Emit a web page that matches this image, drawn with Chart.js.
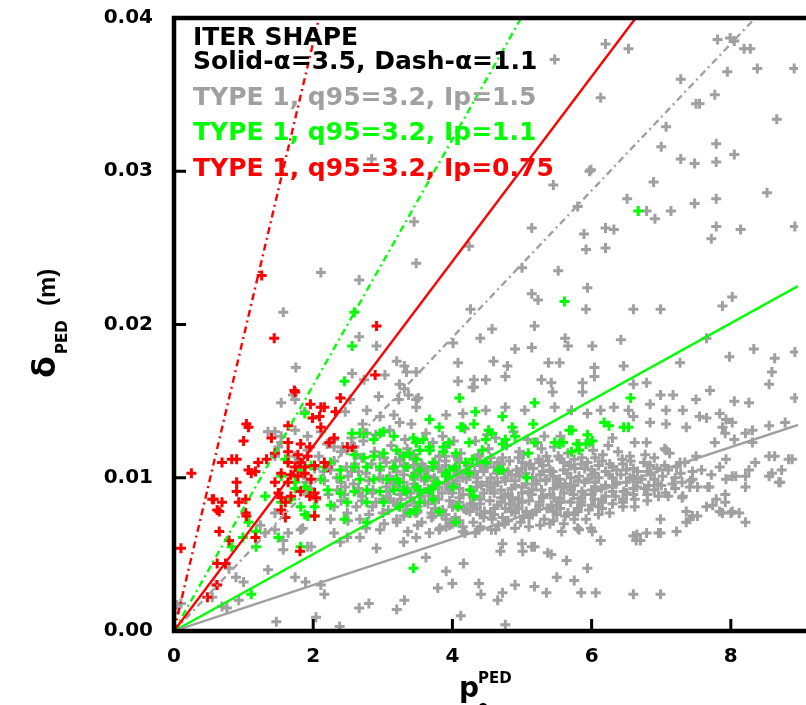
<!DOCTYPE html>
<html>
<head>
<meta charset="utf-8">
<script src="https://cdn.jsdelivr.net/npm/chart.js@4.4.1/dist/chart.umd.min.js"></script>
<style>
    html, body { margin: 0; padding: 0; background: #fff; overflow: hidden; }
    canvas { display: block; }
</style>
</head>
<body>
<canvas id="chart" width="806" height="705"></canvas>
<script>
// axis ranges and ticks
const xMax = 8.965;
const yMax = 0.04;
const xTicks = [0, 2, 4, 6, 8];
const yTicks = [0, 0.01, 0.02, 0.03, 0.04];

// slopes of the lines through the origin (delta = slope * p)
const solidSlopes = { gray: 0.0015, green: 0.00251, red: 0.00603 };
const dashSlopes = { gray: 0.00479, green: 0.00802, red: 0.0192 };

const legendLines = [
    { text: 'ITER SHAPE', color: '#000000' },
    { text: 'Solid-\u03b1=3.5, Dash-\u03b1=1.1', color: '#000000' },
    { text: 'TYPE 1, q95=3.2, Ip=1.5', color: '#a0a0a0' },
    { text: 'TYPE 1, q95=3.2, Ip=1.1', color: '#00ff00' },
    { text: 'TYPE 1, q95=3.2, Ip=0.75', color: '#ff0000' },
];

// points: [p, delta in mm]
const redPts = [
    [2.91,19.9],[1.44,19.1],[2.89,16.7],[1.73,15.7],[2.39,15.2],[1.96,14.8],[2.11,14.6],[2.32,14.3],[1.99,13.9],
    [1.04,13.5],[1.07,13.3],[1.64,13.4],[2.11,13.3],[1.40,12.6],[1.00,12.4],[1.64,12.3],[1.82,12.2],[1.95,12.0],
    [2.23,12.3],[2.30,12.6],[2.49,12.0],[2.56,12.0],[1.45,11.6],[1.64,11.7],[1.78,11.5],[1.92,11.4],[0.69,11.0],
    [0.83,11.2],[0.90,11.2],[1.21,11.0],[1.33,11.2],[1.07,10.5],[1.11,10.3],[1.17,10.4],[1.64,11.0],[1.74,10.7],
    [1.82,11.0],[1.88,10.7],[2.02,10.8],[2.16,11.0],[2.21,10.7],[1.54,10.3],[1.68,10.2],[1.78,10.1],[1.88,10.3],
    [1.97,9.9],[1.64,9.7],[0.25,10.3],[1.45,9.7],[0.90,9.7],[0.90,9.1],[0.57,8.6],[0.69,8.4],[0.62,7.9],
    [0.93,8.4],[1.03,8.6],[1.50,9.0],[1.54,8.7],[1.60,8.4],[1.68,8.8],[1.82,9.1],[2.02,9.0],[2.04,8.7],
    [1.03,7.7],[1.04,7.5],[1.60,7.4],[2.02,7.5],[0.65,6.5],[0.79,5.9],[1.17,6.1],[0.10,5.4],[0.62,4.4],
    [0.74,4.4],[0.62,3.0],[0.48,2.2],[1.81,5.2],[1.95,8.8],[1.54,7.9],[0.55,8.6],[0.65,7.8],[2.09,14.0],
    [2.16,14.6],[1.26,23.2],[1.74,15.6],
];

const greenPts = [
    [6.67,27.4],[5.61,21.5],[2.59,20.8],[2.56,18.6],[2.45,16.3],[4.10,15.2],[4.33,14.3],[4.31,13.5],[4.12,13.3],
    [3.67,13.8],[3.81,13.3],[2.96,12.9],[3.16,12.7],[3.44,12.6],[3.58,12.5],[2.67,12.9],[4.52,13.1],[4.48,12.5],
    [1.88,14.2],[2.56,12.9],[2.73,12.9],[3.01,13.0],[2.87,12.5],
    [2.59,11.5],[2.73,11.3],[2.87,11.4],[3.01,11.6],[3.20,11.8],[3.38,11.6],[3.53,11.8],[3.67,12.0],
    [2.25,11.0],[2.16,10.7],[2.39,10.5],[2.59,10.7],[2.77,10.7],[2.96,10.7],[3.16,10.7],[3.34,10.7],[3.53,10.5],[3.72,10.7],
    [1.64,11.0],[1.82,10.5],[1.97,10.8],
    [2.11,9.9],[2.39,10.0],[2.67,9.9],[2.87,9.9],[3.06,9.9],[3.24,9.7],[3.44,10.1],[3.62,10.0],
    [1.74,9.3],[1.92,9.2],[2.21,9.2],[2.39,9.0],[2.59,9.1],[2.77,9.2],[2.96,9.1],[3.16,9.2],[3.34,9.1],[3.53,9.2],[3.72,9.3],
    [1.31,8.8],[1.54,8.4],[1.82,8.1],[2.02,8.1],[2.25,8.2],[2.49,8.4],[2.77,8.4],[3.01,8.4],[3.24,8.1],[3.53,8.4],[3.72,8.6],
    [1.88,7.6],[2.02,7.5],[2.45,7.3],[2.77,7.1],[3.48,7.9],
    [1.07,7.1],[1.18,6.5],[0.99,6.1],[1.50,6.1],[1.82,5.5],[1.18,5.5],[1.11,2.4],[3.44,4.1],[0.83,5.5],
    [5.18,14.9],[6.56,15.2],[4.72,14.0],[4.86,13.3],[5.16,13.5],[5.68,13.1],[6.18,13.6],[6.46,13.3],
    [5.94,12.8],[5.79,12.2],[5.47,12.3],[5.59,12.3],
    [4.15,13.3],[4.57,12.9],[4.76,12.5],[4.90,12.7],
    [3.95,12.3],[4.24,12.3],[4.43,11.8],[4.72,12.2],[5.09,11.6],[5.18,12.3],[5.71,11.7],
    [3.87,11.7],[4.05,11.6],[4.29,11.2],[4.48,11.0],[4.66,10.5],[5.07,10.0],[4.24,10.3],[4.05,10.7],[3.91,10.1],
    [4.05,7.1],[3.81,7.8],[3.39,7.7],[4.08,8.1],[4.31,8.8],[4.26,9.2],[4.72,10.5],
    [3.20,9.9],[3.30,9.2],[3.48,9.4],[3.67,9.2],[3.77,9.7],[3.91,10.3],[4.01,9.4],
    [3.30,11.4],[3.48,11.2],[3.72,11.0],[3.96,10.5],[4.19,11.0],[3.48,12.3],[3.67,11.8],[3.87,12.0],
    [5.82,11.8],[5.92,12.2],[6.01,12.4],[6.25,13.4],[6.53,13.3],[5.72,13.1],[5.54,12.2],
    [1.60,11.2],[1.54,10.1],[1.74,9.7],[1.88,9.4],[1.68,8.6],[1.92,7.5],
];

const grayUpper = [
    [6.20,38.3],[6.53,38.0],[7.81,38.6],[7.99,38.7],[8.05,38.5],[8.19,38.0],[8.28,38.0],[8.38,36.7],[7.95,36.5],
    [8.91,36.7],[7.28,36.0],[6.13,34.8],[5.47,37.3],[7.55,34.4],[7.50,34.4],[7.77,35.0],[8.66,33.4],[7.07,32.9],
    [7.00,31.6],[7.79,31.8],[8.05,31.1],[7.28,30.8],[7.48,30.5],[7.79,30.6],[5.99,30.1],[5.45,29.1],[6.89,29.3],
    [6.51,28.2],[5.80,27.7],[6.79,27.4],[6.91,26.9],[7.14,27.4],[7.48,27.9],[7.79,28.2],[8.52,28.6],[5.14,26.3],
    [5.89,25.9],[6.20,26.3],[6.32,26.2],[7.79,26.4],[8.14,26.2],[7.72,25.6],[8.92,26.4],[4.24,25.1],[5.92,24.9],
    [6.20,25.0],[5.00,23.7],[5.52,23.5],[5.97,30.0],
    [2.84,30.8],[3.45,26.7],[3.48,24.0],[2.11,23.4],[2.66,22.9],[1.57,20.8],[2.66,19.2],[2.91,18.6],[1.75,17.2],
    [2.56,16.8],[2.73,16.4],[3.03,16.7],[3.20,17.6],[3.31,17.3],[3.34,16.9],[3.48,16.9],[3.24,16.1],[3.31,15.8],
    [2.94,15.3],[3.37,15.4],[3.51,15.2],[1.71,15.4],
];

const grayMid = [
    [4.08,17.5],[4.31,16.4],[4.48,16.4],[4.08,16.3],[4.31,15.9],[4.01,18.8],[3.23,15.1],[3.48,15.1],[1.54,14.9],
    [1.74,15.1],[1.88,14.3],[2.46,14.3],[2.53,15.1],[2.71,13.5],[2.96,14.0],[3.16,14.1],[3.91,14.1],[4.15,14.2],
    [4.48,14.4],[1.45,13.0],[1.54,12.3],[1.74,11.4],[1.45,11.4],[2.30,12.0],[2.49,11.8],[2.59,12.0],
    [2.77,14.4],[3.48,14.6],[3.24,13.6],[3.41,13.5],[1.35,13.0],[1.54,12.7],[1.74,13.1],[1.92,12.7],[2.11,13.0],
    [2.30,12.5],[1.50,12.0],
    [5.94,22.4],[5.92,21.0],[5.23,21.6],[5.14,22.0],[6.60,21.0],[6.99,21.0],[7.88,21.2],[8.02,21.8],[4.26,21.0],
    [4.57,19.7],[4.40,19.1],[5.18,19.9],[5.62,19.1],[5.66,18.6],[6.01,18.6],[6.42,19.0],[4.90,18.4],[5.14,18.5],
    [7.65,19.1],[7.98,17.9],[8.33,18.4],[8.63,17.8],[8.92,18.2],[7.27,17.5],
    [4.59,17.6],[4.79,17.3],[4.76,16.6],[5.38,17.5],[5.54,17.5],[6.04,17.2],[6.04,16.6],[6.46,17.3],
    [4.29,15.9],[5.28,16.4],[5.42,16.2],[5.87,16.2],[5.87,15.6],[5.44,15.6],
    [6.60,16.1],[6.79,16.2],[6.99,15.4],[7.17,15.4],[7.50,15.1],[7.70,15.7],[8.05,15.0],[8.26,14.9],[8.55,16.1],
    [8.59,16.9],[8.92,15.2],
    [4.76,14.6],[5.04,14.4],[5.47,14.6],[5.71,14.4],[5.94,14.2],[6.13,14.4],[6.32,14.6],[6.53,14.4],[6.84,14.8],
    [7.07,14.4],[7.31,14.4],[7.55,14.0],[7.84,14.2],[8.02,13.6],[8.21,12.9],[8.55,13.4],[8.78,13.6],
];

const grayRight = [
    [6.60,14.0],[6.84,13.6],[7.07,13.5],[7.36,13.3],[7.65,13.9],[7.88,13.3],[7.92,12.9],[7.77,12.3],[8.05,12.5],
    [8.31,12.3],[8.63,11.4],[8.88,11.2],[8.73,10.5],[8.71,9.7],[8.21,10.1],[8.02,10.1],[7.84,10.7],[7.50,11.4],
    [7.27,11.0],[7.07,11.8],[6.79,12.3],
    [7.93,13.8],[8.31,13.1],[8.55,11.4],[8.83,11.2],[8.59,10.3],[8.26,10.5],[8.35,11.0],[7.93,11.2],[8.07,10.1],
    [8.55,10.1],[8.69,9.7],[8.21,9.4],[8.21,7.1],[7.79,8.6],[7.65,8.1],[7.74,8.2],[7.88,7.7],[8.02,7.8],
    [8.12,7.7],[7.45,7.5],[7.36,7.1],[7.22,6.5],[7.31,8.8],[7.41,9.4],[7.45,9.9],[7.69,9.4],[7.93,9.9],
];

const grayLow = [
    [4.69,5.2],[5.01,5.2],[5.18,5.5],[5.42,5.0],[5.64,4.6],[5.94,4.1],[4.16,4.4],[3.91,3.9],[4.00,3.1],
    [3.79,2.8],[4.38,3.1],[4.41,2.4],[4.72,2.5],[4.65,2.0],[4.90,3.0],[5.18,2.9],[5.35,2.5],[5.50,3.5],
    [5.75,3.3],[5.85,2.5],[6.06,2.5],[6.60,2.4],[6.99,2.4],[4.12,1.0],[4.76,0.4],
    [5.57,6.5],[5.80,6.7],[6.01,6.5],[6.13,5.9],[6.65,6.3],[6.79,6.4],[6.96,6.4],[6.64,5.9],[7.36,7.8],
    [7.52,7.5],[7.41,7.3],[7.84,7.8],[8.00,7.7],[6.99,7.3],[7.92,8.4],[7.67,9.4],[7.92,8.9],
    [0.04,1.7],[0.01,1.2],[0.60,3.0],[0.76,1.5],[0.93,2.0],[1.47,0.6],[2.04,0.9],[2.38,0.3],[1.35,4.0],
    [1.74,3.5],[1.89,3.2],[2.16,2.4],[2.11,3.0],[2.66,1.5],[2.80,1.8],[3.20,1.4],[3.31,2.0],
    [1.57,5.3],[1.97,5.5],[2.39,5.8],[2.67,6.1],[2.91,5.4],[3.30,5.8],[3.48,6.1],[3.62,4.8],[1.24,6.9],
    [1.31,6.4],[1.45,6.6],[1.57,5.9],[1.85,6.7],[2.96,6.6],[3.20,7.1],[0.79,4.1],[0.89,3.5],[1.00,3.2],
    [0.55,2.2],[0.69,1.6],[0.10,1.8],
    [3.67,6.4],[3.81,6.6],[3.91,6.8],[4.15,6.5],[4.33,6.4],[4.62,6.6],[4.72,5.7],[5.00,5.7],[5.14,5.5],
    [5.37,5.1],[5.82,6.6],[5.99,6.7],[6.60,6.2],[6.70,5.9],[6.99,6.4],
    [2.59,12.0],[2.77,12.9],[2.96,11.4],[3.24,11.6],[3.44,11.2],[3.58,10.7],[3.81,11.4],[3.91,12.0],[3.72,12.3],
    [4.38,11.4],[4.48,10.7],[3.16,8.4],[3.34,7.9],[3.48,7.7],[3.72,7.5],[3.91,7.3],[4.15,6.8],[4.38,6.6],
    [4.57,7.3],[2.49,7.7],[2.67,7.3],[2.25,7.3],[1.64,6.4],[1.82,6.6],[1.92,5.5],[2.30,6.4],[2.49,6.1],[1.45,7.7],
];

const grayCore = [
    [3.10,13.1],[3.62,12.9],[4.18,13.2],[4.50,12.8],[4.88,13.0],[5.32,12.7],
    [2.55,12.6],[2.90,12.8],[3.32,12.5],[3.86,12.7],[4.02,12.4],[4.62,12.6],[5.08,12.5],[5.55,12.7],[5.97,12.3],[6.30,12.6],
    [2.20,12.2],[2.72,12.4],[3.12,12.1],[3.48,12.3],[3.95,12.2],[4.33,12.4],[4.78,12.1],[5.22,12.3],[5.46,12.0],
    [5.82,12.2],[6.24,12.1],[6.62,12.3],[7.05,11.9],
    [1.92,11.8],[2.42,12.0],[2.88,11.7],[3.35,11.9],[3.68,11.8],[4.12,11.6],[4.52,11.9],[4.96,11.7],[5.28,11.9],
    [5.66,11.6],[6.02,11.8],[6.38,11.7],[6.77,11.5],[7.12,11.6],
    [2.08,11.4],[2.62,11.5],[3.02,11.3],[3.44,11.5],[3.82,11.4],[4.08,11.2],[4.38,11.5],[4.72,11.3],[5.02,11.5],
    [5.24,11.2],[5.52,11.4],[5.86,11.3],[6.16,11.5],[6.44,11.2],[6.90,11.3],[7.34,11.0],
    [1.78,11.0],[2.30,11.1],[2.84,10.9],[3.18,11.1],[3.56,10.9],[3.90,11.1],[4.22,10.8],[4.48,11.0],[4.82,11.1],
    [5.12,10.9],[5.38,11.1],[5.68,10.8],[5.94,11.0],[6.26,10.9],[6.56,11.1],[6.84,10.8],[7.22,10.7],[7.58,10.5],
    [2.02,10.6],[2.48,10.7],[2.96,10.5],[3.36,10.7],[3.64,10.5],[4.02,10.6],[4.32,10.4],[4.60,10.7],[4.92,10.5],
    [5.16,10.6],[5.44,10.4],[5.76,10.6],[6.04,10.3],[6.36,10.5],[6.66,10.4],[6.94,10.6],[7.28,10.3],[7.72,10.2],
    [1.86,10.2],[2.34,10.0],[2.76,10.3],[3.10,10.1],[3.46,10.3],[3.74,10.0],[4.06,10.2],[4.36,10.0],[4.64,10.3],
    [4.96,10.1],[5.26,10.2],[5.54,9.9],[5.82,10.1],[6.10,10.0],[6.42,10.2],[6.72,9.9],[7.02,10.1],[7.42,9.8],
    [2.16,9.8],[2.58,9.6],[3.00,9.9],[3.30,9.7],[3.60,9.8],[3.92,9.6],[4.20,9.9],[4.50,9.7],[4.76,9.8],
    [5.06,9.6],[5.34,9.8],[5.62,9.6],[5.90,9.7],[6.20,9.5],[6.50,9.7],[6.82,9.5],[7.16,9.6],[7.52,9.4],
    [1.96,9.3],[2.46,9.4],[2.86,9.2],[3.22,9.4],[3.50,9.2],[3.80,9.4],[4.10,9.3],[4.42,9.5],[4.70,9.2],
    [5.00,9.4],[5.28,9.2],[5.56,9.4],[5.86,9.1],[6.14,9.3],[6.46,9.1],[6.76,9.3],[7.06,9.0],
    [2.22,8.9],[2.66,9.0],[3.06,8.8],[3.40,9.0],[3.72,8.8],[4.00,9.0],[4.30,8.8],[4.60,9.0],[4.86,8.7],
    [5.14,8.9],[5.46,8.7],[5.74,8.9],[6.04,8.6],[6.34,8.8],[6.62,8.6],[6.96,8.8],[7.30,8.7],
    [2.40,8.5],[2.90,8.4],[3.26,8.6],[3.60,8.4],[3.96,8.5],[4.26,8.3],[4.54,8.5],[4.82,8.3],[5.10,8.5],
    [5.42,8.2],[5.70,8.4],[6.00,8.2],[6.30,8.3],[6.62,8.1],
    [2.62,8.1],[3.08,7.9],[3.50,8.1],[3.86,7.9],[4.16,8.0],[4.46,7.8],[4.76,8.0],[5.06,7.8],[5.36,8.0],
    [5.66,7.7],[5.96,7.9],[6.26,7.7],
    [2.80,7.6],[3.30,7.5],[3.70,7.7],[4.04,7.4],[4.40,7.6],[4.72,7.4],[5.02,7.5],[5.32,7.3],[5.62,7.5],[5.92,7.3],
    [2.50,7.2],[3.02,7.0],[3.56,7.1],[3.96,6.9],[4.30,7.1],[4.66,6.9],[4.98,7.1],[5.26,6.9],[5.60,7.0],
    [2.76,6.7],[3.36,6.5],[3.82,6.7],[4.18,6.4],[4.56,6.6],[4.90,6.7],
    [3.45,11.3],[3.75,11.0],[4.05,11.4],[4.35,11.2],[4.65,11.0],[4.95,11.3],[5.25,11.0],[5.55,11.2],[5.85,10.9],[6.15,11.1],
    [3.30,10.8],[3.60,10.4],[3.90,10.8],[4.20,10.5],[4.50,10.9],[4.80,10.4],[5.10,10.8],[5.40,10.5],[5.70,10.8],
    [6.00,10.5],[6.30,10.7],[6.60,10.6],
    [3.20,10.4],[3.55,10.1],[3.85,10.4],[4.15,10.0],[4.45,10.4],[4.75,10.0],[5.05,10.3],[5.35,9.9],[5.65,10.3],
    [5.95,9.9],[6.25,10.2],[6.55,10.0],[6.85,10.2],
    [3.15,9.6],[3.45,9.9],[3.75,9.5],[4.05,9.8],[4.35,9.4],[4.65,9.7],[4.90,9.5],[5.20,9.8],[5.50,9.5],
    [5.80,9.8],[6.05,9.4],[6.35,9.7],[6.65,9.4],[6.95,9.6],
    [3.10,9.1],[3.35,9.3],[3.65,9.0],[3.95,9.2],[4.25,8.9],[4.55,9.2],[4.80,8.9],[5.10,9.1],[5.40,8.9],
    [5.70,9.2],[6.00,8.9],[6.30,9.1],[6.60,8.9],
    [3.00,8.6],[3.40,8.7],[3.75,8.5],[4.10,8.7],[4.40,8.3],[4.70,8.7],[5.00,8.4],[5.30,8.7],[5.55,8.4],
    [5.85,8.6],[6.15,8.4],[6.45,8.6],
    [3.20,8.2],[3.65,8.3],[4.00,8.1],[4.30,8.2],[4.60,8.0],[4.90,8.2],[5.20,7.9],[5.50,8.2],[5.80,8.0],[6.10,8.1],
    [3.50,7.8],[3.90,7.6],[4.20,7.9],[4.55,7.7],[4.85,7.8],[5.15,7.6],[5.45,7.8],[5.75,7.6],
    [2.35,9.2],[2.55,10.4],[2.70,8.8],[2.40,11.7],[2.15,10.4],[1.90,9.7],[2.05,8.6],[2.30,8.1],
];

// extra points filling the densest part of the gray cloud
const grayDense = [
    [2.70,11.3],[3.25,11.2],[3.90,11.4],[4.55,11.3],[5.35,11.4],[5.75,11.2],[6.05,11.3],[6.55,11.4],
    [2.60,10.9],[3.05,11.0],[3.45,10.8],[3.75,10.9],[4.10,11.0],[4.40,10.8],[4.70,10.9],[5.00,11.0],[5.30,10.8],
    [5.60,11.0],[6.10,10.8],[6.45,10.9],[6.75,11.0],[7.05,10.8],
    [2.25,10.5],[2.65,10.4],[3.15,10.6],[3.50,10.5],[3.80,10.6],[4.10,10.4],[4.45,10.6],[4.70,10.5],[5.00,10.6],
    [5.30,10.4],[5.60,10.5],[5.90,10.6],[6.20,10.4],[6.50,10.5],[6.80,10.4],[7.10,10.5],[7.45,10.4],
    [2.50,10.1],[2.95,10.0],[3.30,10.2],[3.65,10.1],[3.95,9.9],[4.25,10.1],[4.55,10.0],[4.85,10.2],[5.15,10.0],
    [5.45,10.1],[5.70,10.0],[6.00,10.2],[6.30,10.0],[6.60,10.1],[6.90,9.9],[7.20,10.0],
    [2.40,9.7],[2.80,9.8],[3.15,9.7],[3.45,9.6],[3.75,9.8],[4.05,9.6],[4.35,9.7],[4.60,9.6],[4.90,9.8],
    [5.20,9.6],[5.50,9.7],[5.75,9.5],[6.05,9.7],[6.35,9.6],[6.65,9.7],[7.00,9.5],[7.30,9.7],
    [2.65,9.3],[3.05,9.4],[3.35,9.2],[3.65,9.3],[3.95,9.4],[4.25,9.2],[4.55,9.4],[4.85,9.3],[5.15,9.2],
    [5.45,9.3],[5.70,9.4],[6.00,9.2],[6.30,9.4],[6.60,9.3],[6.90,9.2],[7.20,9.3],
    [2.45,8.9],[2.85,9.0],[3.25,8.9],[3.55,8.8],[3.85,9.0],[4.15,8.9],[4.45,9.0],[4.75,8.8],[5.00,9.0],
    [5.30,8.8],[5.60,9.0],[5.90,8.9],[6.20,8.8],[6.50,9.0],[6.80,8.9],[7.10,8.8],
    [2.70,8.5],[3.10,8.6],[3.45,8.4],[3.80,8.6],[4.10,8.4],[4.40,8.6],[4.70,8.4],[4.95,8.6],[5.25,8.4],
    [5.55,8.6],[5.85,8.4],[6.15,8.6],[6.45,8.4],[6.80,8.5],
    [2.85,8.1],[3.35,8.2],[3.75,8.0],[4.05,8.2],[4.35,8.0],[4.65,8.2],[4.95,8.0],[5.25,8.2],[5.55,8.0],
    [5.85,8.2],[6.15,8.0],[6.45,8.1],
    [3.00,7.7],[3.45,7.8],[3.85,7.6],[4.25,7.8],[4.60,7.6],[4.90,7.7],[5.20,7.8],[5.50,7.6],[5.80,7.8],[6.10,7.6],
    [3.20,7.3],[3.70,7.4],[4.10,7.2],[4.45,7.4],[4.80,7.2],[5.10,7.4],[5.45,7.2],[5.75,7.3],
    [3.50,6.9],[4.00,7.0],[4.40,6.8],[4.75,7.0],[5.10,6.8],[5.40,7.0],
];

const GRAY = '#a0a0a0';
const GREEN = '#00ff00';
const RED = '#ff0000';
const FONT = 'DejaVu Sans';

function toPoints(list) {
    return list.map((p) => ({ x: p[0], y: p[1] / 1000 }));
}

function scatterSet(list, color, order) {
    return {
        type: 'scatter',
        data: toPoints(list),
        pointStyle: 'cross',
        pointRadius: 5,
        borderColor: color,
        backgroundColor: color,
        borderWidth: 3,
        order: order,
    };
}

function originLine(slope, color, dash) {
    const xe = Math.min(xMax, yMax / slope);
    return {
        type: 'line',
        data: [{ x: 0, y: 0 }, { x: xe, y: slope * xe }],
        borderColor: color,
        borderWidth: 2.4,
        borderDash: dash,
        pointRadius: 0,
        fill: false,
        order: 0,
    };
}

const dashDot = [7, 4, 2, 4];

const framePlugin = {
    id: 'frame',
    afterDraw(chart) {
        const ctx = chart.ctx;
        const a = chart.chartArea;
        const xs = chart.scales.x;
        const ys = chart.scales.y;

        ctx.save();
        ctx.strokeStyle = '#000';
        ctx.lineCap = 'butt';

        // inward tick marks
        ctx.lineWidth = 3;
        xTicks.forEach((v) => {
            const px = xs.getPixelForValue(v);
            ctx.beginPath();
            ctx.moveTo(px, a.bottom);
            ctx.lineTo(px, a.bottom - 12);
            ctx.stroke();
        });
        yTicks.forEach((v) => {
            const py = ys.getPixelForValue(v);
            ctx.beginPath();
            ctx.moveTo(a.left, py);
            ctx.lineTo(a.left + 12, py);
            ctx.stroke();
        });

        // frame (right side falls outside the picture)
        ctx.lineWidth = 4.5;
        ctx.beginPath();
        ctx.moveTo(chart.width + 5, a.top);
        ctx.lineTo(a.left, a.top);
        ctx.lineTo(a.left, a.bottom);
        ctx.lineTo(chart.width + 5, a.bottom);
        ctx.stroke();

        // legend text
        ctx.textAlign = 'left';
        ctx.textBaseline = 'alphabetic';
        ctx.font = 'bold 25px ' + FONT;
        const baselines = [45, 69, 105, 140, 176];
        legendLines.forEach((l, i) => {
            ctx.fillStyle = l.color;
            ctx.fillText(l.text, a.left + 19, baselines[i]);
        });

        // x title: p_e^PED
        ctx.fillStyle = '#000';
        ctx.font = 'bold 28px ' + FONT;
        ctx.fillText('p', 459, 697);
        ctx.font = 'bold 15px ' + FONT;
        ctx.fillText('PED', 478, 683);
        ctx.fillText('e', 478, 712);

        // y title: delta_PED (m)
        ctx.translate(55, 378);
        ctx.rotate(-Math.PI / 2);
        ctx.font = 'bold 32px ' + FONT;
        ctx.fillText('\u03b4', 0, 0);
        ctx.font = 'bold 15px ' + FONT;
        ctx.fillText('PED', 24, 12);
        ctx.font = 'bold 24px "Liberation Sans"';
        ctx.fillText('(m)', 72, 0);
        ctx.restore();
    },
};

new Chart(document.getElementById('chart').getContext('2d'), {
    type: 'scatter',
    data: {
        datasets: [
            originLine(solidSlopes.gray, GRAY, []),
            originLine(solidSlopes.green, GREEN, []),
            originLine(solidSlopes.red, RED, []),
            originLine(dashSlopes.gray, GRAY, dashDot),
            originLine(dashSlopes.green, GREEN, dashDot),
            originLine(dashSlopes.red, RED, dashDot),
            scatterSet(redPts, RED, 1),
            scatterSet(greenPts, GREEN, 2),
            scatterSet(grayUpper.concat(grayMid, grayRight, grayLow, grayCore, grayDense), GRAY, 3),
        ],
    },
    options: {
        responsive: false,
        animation: false,
        events: [],
        layout: {
            padding: { top: 18, right: 0, left: 0, bottom: 0 },
        },
        plugins: {
            legend: { display: false },
            tooltip: { enabled: false },
        },
        scales: {
            x: {
                type: 'linear',
                min: 0,
                max: xMax,
                grid: { display: false, drawTicks: false },
                border: { display: false },
                ticks: {
                    stepSize: 2,
                    includeBounds: false,
                    padding: 14,
                    color: '#000',
                    font: { family: FONT, size: 20, weight: 'bold' },
                    maxRotation: 0,
                },
                afterFit(scale) {
                    scale.height = 74;
                    scale.paddingRight = 0;
                },
            },
            y: {
                type: 'linear',
                min: 0,
                max: yMax,
                grid: { display: false, drawTicks: false },
                border: { display: false },
                ticks: {
                    stepSize: 0.01,
                    padding: 21,
                    color: '#000',
                    font: { family: FONT, size: 20, weight: 'bold' },
                    callback: (v) => v.toFixed(2),
                },
                afterFit(scale) {
                    scale.width = 174;
                    scale.paddingTop = 0;
                    scale.paddingBottom = 0;
                },
            },
        },
    },
    plugins: [framePlugin],
});
</script>
</body>
</html>
